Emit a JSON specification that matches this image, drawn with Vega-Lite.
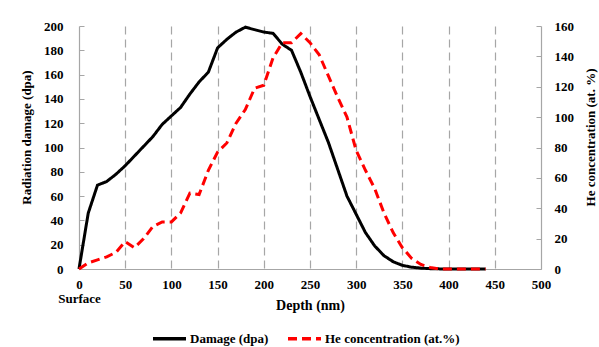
{
  "$schema": "https://vega.github.io/schema/vega-lite/v6.json",
  "width": 462,
  "height": 243,
  "autosize": "none",
  "padding": {"left": 79, "top": 26, "right": 58, "bottom": 78},
  "background": "white",
  "config": {
    "view": {"stroke": null},
    "font": "'Liberation Serif', 'Times New Roman', serif",
    "axis": {
      "labelFont": "'Liberation Serif', 'Times New Roman', serif",
      "labelFontWeight": "bold",
      "labelFontSize": 13,
      "labelColor": "#000000",
      "titleFont": "'Liberation Serif', 'Times New Roman', serif",
      "titleFontWeight": "bold",
      "titleFontSize": 13,
      "titleColor": "#000000",
      "domainColor": "#A6A6A6",
      "tickColor": "#A6A6A6",
      "domainWidth": 1.2
    },
    "legend": {
      "labelFont": "'Liberation Serif', 'Times New Roman', serif",
      "labelFontWeight": "bold",
      "labelFontSize": 13,
      "labelColor": "#000000"
    }
  },
  "data": {
    "values": [
      {"depth": 0, "series": "Damage (dpa)", "value": 0},
      {"depth": 10, "series": "Damage (dpa)", "value": 46},
      {"depth": 20, "series": "Damage (dpa)", "value": 69},
      {"depth": 30, "series": "Damage (dpa)", "value": 72},
      {"depth": 40, "series": "Damage (dpa)", "value": 78},
      {"depth": 50, "series": "Damage (dpa)", "value": 85},
      {"depth": 60, "series": "Damage (dpa)", "value": 93},
      {"depth": 70, "series": "Damage (dpa)", "value": 101},
      {"depth": 80, "series": "Damage (dpa)", "value": 109},
      {"depth": 90, "series": "Damage (dpa)", "value": 119},
      {"depth": 100, "series": "Damage (dpa)", "value": 126},
      {"depth": 110, "series": "Damage (dpa)", "value": 133},
      {"depth": 120, "series": "Damage (dpa)", "value": 144},
      {"depth": 130, "series": "Damage (dpa)", "value": 154},
      {"depth": 140, "series": "Damage (dpa)", "value": 162},
      {"depth": 150, "series": "Damage (dpa)", "value": 182},
      {"depth": 160, "series": "Damage (dpa)", "value": 189},
      {"depth": 170, "series": "Damage (dpa)", "value": 195},
      {"depth": 180, "series": "Damage (dpa)", "value": 199},
      {"depth": 190, "series": "Damage (dpa)", "value": 197},
      {"depth": 200, "series": "Damage (dpa)", "value": 195},
      {"depth": 210, "series": "Damage (dpa)", "value": 194},
      {"depth": 220, "series": "Damage (dpa)", "value": 185},
      {"depth": 230, "series": "Damage (dpa)", "value": 180},
      {"depth": 240, "series": "Damage (dpa)", "value": 162},
      {"depth": 250, "series": "Damage (dpa)", "value": 142},
      {"depth": 260, "series": "Damage (dpa)", "value": 123},
      {"depth": 270, "series": "Damage (dpa)", "value": 104},
      {"depth": 280, "series": "Damage (dpa)", "value": 82},
      {"depth": 290, "series": "Damage (dpa)", "value": 60},
      {"depth": 300, "series": "Damage (dpa)", "value": 45},
      {"depth": 310, "series": "Damage (dpa)", "value": 30},
      {"depth": 320, "series": "Damage (dpa)", "value": 19},
      {"depth": 330, "series": "Damage (dpa)", "value": 11},
      {"depth": 340, "series": "Damage (dpa)", "value": 6},
      {"depth": 350, "series": "Damage (dpa)", "value": 3},
      {"depth": 360, "series": "Damage (dpa)", "value": 1.5},
      {"depth": 370, "series": "Damage (dpa)", "value": 0.7},
      {"depth": 380, "series": "Damage (dpa)", "value": 0.3},
      {"depth": 390, "series": "Damage (dpa)", "value": 0.1},
      {"depth": 400, "series": "Damage (dpa)", "value": 0},
      {"depth": 410, "series": "Damage (dpa)", "value": 0},
      {"depth": 420, "series": "Damage (dpa)", "value": 0},
      {"depth": 430, "series": "Damage (dpa)", "value": 0},
      {"depth": 440, "series": "Damage (dpa)", "value": 0},
      {"depth": 0, "series": "He concentration (at.%)", "value": 0},
      {"depth": 10, "series": "He concentration (at.%)", "value": 4},
      {"depth": 20, "series": "He concentration (at.%)", "value": 6},
      {"depth": 30, "series": "He concentration (at.%)", "value": 8},
      {"depth": 40, "series": "He concentration (at.%)", "value": 11},
      {"depth": 50, "series": "He concentration (at.%)", "value": 18},
      {"depth": 60, "series": "He concentration (at.%)", "value": 14},
      {"depth": 70, "series": "He concentration (at.%)", "value": 20},
      {"depth": 80, "series": "He concentration (at.%)", "value": 28},
      {"depth": 90, "series": "He concentration (at.%)", "value": 31},
      {"depth": 100, "series": "He concentration (at.%)", "value": 31},
      {"depth": 110, "series": "He concentration (at.%)", "value": 37},
      {"depth": 120, "series": "He concentration (at.%)", "value": 50},
      {"depth": 130, "series": "He concentration (at.%)", "value": 49},
      {"depth": 140, "series": "He concentration (at.%)", "value": 65},
      {"depth": 150, "series": "He concentration (at.%)", "value": 77},
      {"depth": 160, "series": "He concentration (at.%)", "value": 83},
      {"depth": 170, "series": "He concentration (at.%)", "value": 96},
      {"depth": 180, "series": "He concentration (at.%)", "value": 105},
      {"depth": 190, "series": "He concentration (at.%)", "value": 119},
      {"depth": 200, "series": "He concentration (at.%)", "value": 121},
      {"depth": 210, "series": "He concentration (at.%)", "value": 139},
      {"depth": 220, "series": "He concentration (at.%)", "value": 149},
      {"depth": 230, "series": "He concentration (at.%)", "value": 149},
      {"depth": 240, "series": "He concentration (at.%)", "value": 155},
      {"depth": 250, "series": "He concentration (at.%)", "value": 149},
      {"depth": 260, "series": "He concentration (at.%)", "value": 141},
      {"depth": 270, "series": "He concentration (at.%)", "value": 127},
      {"depth": 280, "series": "He concentration (at.%)", "value": 113},
      {"depth": 290, "series": "He concentration (at.%)", "value": 100},
      {"depth": 300, "series": "He concentration (at.%)", "value": 78},
      {"depth": 310, "series": "He concentration (at.%)", "value": 65},
      {"depth": 320, "series": "He concentration (at.%)", "value": 53},
      {"depth": 330, "series": "He concentration (at.%)", "value": 37},
      {"depth": 340, "series": "He concentration (at.%)", "value": 24},
      {"depth": 350, "series": "He concentration (at.%)", "value": 14},
      {"depth": 360, "series": "He concentration (at.%)", "value": 7},
      {"depth": 370, "series": "He concentration (at.%)", "value": 3},
      {"depth": 380, "series": "He concentration (at.%)", "value": 1},
      {"depth": 390, "series": "He concentration (at.%)", "value": 0},
      {"depth": 400, "series": "He concentration (at.%)", "value": 0},
      {"depth": 410, "series": "He concentration (at.%)", "value": 0},
      {"depth": 420, "series": "He concentration (at.%)", "value": 0},
      {"depth": 430, "series": "He concentration (at.%)", "value": 0},
      {"depth": 440, "series": "He concentration (at.%)", "value": 0}
    ]
  },
  "encoding": {
    "x": {
      "field": "depth",
      "type": "quantitative",
      "scale": {"domain": [0, 500], "nice": false},
      "axis": {
        "title": "Depth (nm)",
        "titleFontSize": 14,
        "values": [0, 50, 100, 150, 200, 250, 300, 350, 400, 450, 500],
        "ticks": false,
        "labelFlush": false,
        "labelPadding": 9,
        "labelExpr": "datum.value == 0 ? ['0', 'Surface'] : datum.label",
        "labelLineHeight": 14,
        "grid": true,
        "gridColor": "#A6A6A6",
        "gridDash": [8, 5],
        "gridWidth": 1.2,
        "gridOpacity": {"condition": {"test": "datum.value == 0 || datum.value == 500", "value": 0}, "value": 1},
        "titlePadding": -7
      }
    },
    "color": {
      "field": "series",
      "type": "nominal",
      "scale": {"domain": ["Damage (dpa)", "He concentration (at.%)"], "range": ["#000000", "#FF0000"]},
      "legend": {
        "title": null,
        "orient": "none",
        "direction": "horizontal",
        "legendX": 72,
        "legendY": 294,
        "symbolType": "stroke",
        "symbolSize": 1089,
        "symbolStrokeWidth": 3.5,
        "labelOffset": 2,
        "columnPadding": 12
      }
    },
    "strokeDash": {
      "field": "series",
      "type": "nominal",
      "scale": {"domain": ["Damage (dpa)", "He concentration (at.%)"], "range": [[1, 0], [9, 5]]},
      "legend": {
        "title": null,
        "orient": "none",
        "direction": "horizontal",
        "legendX": 72,
        "legendY": 294,
        "symbolType": "stroke",
        "symbolSize": 1089,
        "symbolStrokeWidth": 3.5,
        "labelOffset": 2,
        "columnPadding": 12
      }
    }
  },
  "layer": [
    {
      "transform": [{"filter": "datum.series == 'Damage (dpa)'"}],
      "mark": {"type": "line", "strokeWidth": 3},
      "encoding": {
        "y": {
          "field": "value",
          "type": "quantitative",
          "scale": {"domain": [0, 200], "nice": false},
          "axis": {
            "orient": "left",
            "title": "Radiation damage (dpa)",
            "values": [0, 20, 40, 60, 80, 100, 120, 140, 160, 180, 200],
            "grid": false,
            "tickSize": -5,
            "labelPadding": 21,
            "titlePadding": 10,
            "titleY": 111
          }
        }
      }
    },
    {
      "transform": [{"filter": "datum.series == 'He concentration (at.%)'"}],
      "mark": {"type": "line", "strokeWidth": 3},
      "encoding": {
        "y": {
          "field": "value",
          "type": "quantitative",
          "scale": {"domain": [0, 160], "nice": false},
          "axis": {
            "orient": "right",
            "title": "He concentration (at. %)",
            "values": [0, 20, 40, 60, 80, 100, 120, 140, 160],
            "grid": false,
            "tickSize": -5,
            "labelPadding": 18,
            "titleAngle": 270,
            "titlePadding": 24,
            "titleY": 111
          }
        }
      }
    }
  ],
  "resolve": {"scale": {"y": "independent"}}
}
